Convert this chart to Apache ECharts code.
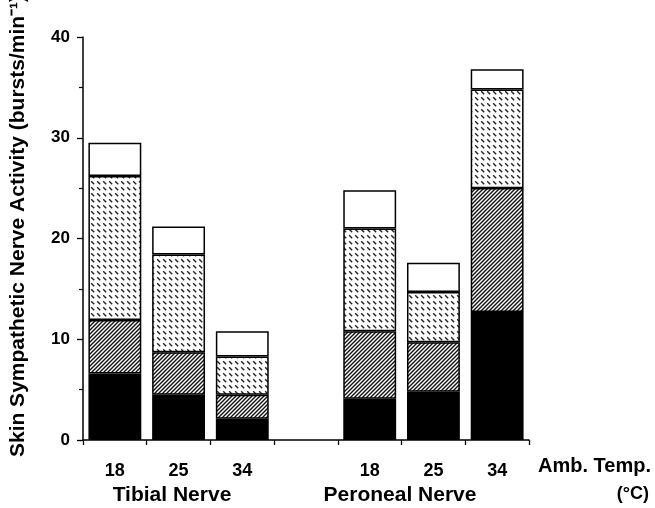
<!DOCTYPE html>
<html>
<head>
<meta charset="utf-8">
<script src="https://cdn.jsdelivr.net/npm/echarts@6/dist/echarts.min.js"></script>
<style>html,body{margin:0;padding:0;background:#fff}#c{width:655px;height:508px}</style>
</head>
<body>
<div id="c"></div>
<script>
// Categories (blank slot separates the two nerves)
var categories = ['18', '25', '34', '', '18', '25', '34'];
// Stacked segment values (bursts/min), bottom to top
var blackSeg  = [6.6, 4.5, 2.1, null, 4.1, 4.8, 12.7];
var hatchSeg  = [5.3, 4.2, 2.4, null, 6.7, 4.9, 12.3];
var dottedSeg = [14.3, 9.7, 3.8, null, 10.2, 5.0, 9.8];
var whiteSeg  = [3.3, 2.8, 2.5, null, 3.8, 2.9, 2.0];
var yTicks = [0, 10, 20, 30, 40];
var groupLabels = ['Tibial Nerve', 'Peroneal Nerve'];
var yName = 'Skin Sympathetic Nerve Activity (bursts/min\u207B\u00B9)';

function makeHatch() {
  var c = document.createElement('canvas');
  c.width = 4; c.height = 4;
  var g = c.getContext('2d');
  g.fillStyle = '#fff'; g.fillRect(0, 0, 4, 4);
  g.strokeStyle = '#111'; g.lineWidth = 1.4;
  g.beginPath();
  g.moveTo(-1, 5); g.lineTo(5, -1);
  g.moveTo(-1, 1); g.lineTo(1, -1);
  g.moveTo(3, 5); g.lineTo(5, 3);
  g.stroke();
  return c;
}
function makeDots() {
  var c = document.createElement('canvas');
  c.width = 6; c.height = 6;
  var g = c.getContext('2d');
  g.fillStyle = '#fff'; g.fillRect(0, 0, 6, 6);
  g.strokeStyle = '#222'; g.lineWidth = 1.4;
  g.beginPath();
  g.moveTo(1.2, 1.2); g.lineTo(4.2, 4.2);
  g.stroke();
  return c;
}

var font = 'Liberation Sans, Arial, Helvetica, sans-serif';
var chart = echarts.init(document.getElementById('c'), null, {renderer: 'canvas'});
var border = {borderColor: '#000', borderWidth: 1.5};
function ser(name, data, style) {
  return {name: name, type: 'bar', stack: 'a', data: data, barWidth: '83%',
    itemStyle: style, emphasis: {disabled: true}, animation: false};
}
chart.setOption({
  animation: false,
  grid: {left: 83, right: 126, top: 37, bottom: 68},
  xAxis: {
    type: 'category', data: categories,
    axisLine: {lineStyle: {color: '#000', width: 1.5}},
    axisTick: {show: true, alignWithLabel: false, length: 5, lineStyle: {color: '#000', width: 1.3}},
    axisLabel: {color: '#000', fontFamily: font, fontWeight: 'bold', fontSize: 18, margin: 22}
  },
  yAxis: {
    type: 'value', min: 0, max: 40, interval: 10,
    splitLine: {show: false},
    axisLine: {show: true, lineStyle: {color: '#000', width: 1.5}},
    axisTick: {show: true, length: 6, lineStyle: {color: '#000', width: 1.3}},
    minorTick: {show: true, splitNumber: 2, length: 4, lineStyle: {color: '#000', width: 1.2}},
    axisLabel: {color: '#000', fontFamily: font, fontWeight: 'bold', fontSize: 17, margin: 13,
      formatter: function (v) { return yTicks.indexOf(v) >= 0 ? String(v) : ''; }}
  },
  series: [
    ser('black', blackSeg, {color: '#000'}),
    ser('hatch', hatchSeg, Object.assign({color: {image: makeHatch(), repeat: 'repeat'}}, border)),
    ser('dotted', dottedSeg, Object.assign({color: {image: makeDots(), repeat: 'repeat'}}, border)),
    ser('white', whiteSeg, Object.assign({color: '#fff'}, border))
  ],
  graphic: [
    {type: 'text', x: 18, y: 226, rotation: Math.PI / 2,
      style: {text: yName, font: 'bold 21px ' + font, fill: '#000', align: 'center', verticalAlign: 'middle'}},
    {type: 'text', x: 172, y: 495, style: {text: groupLabels[0], font: 'bold 21px ' + font, fill: '#000', align: 'center', verticalAlign: 'middle'}},
    {type: 'text', x: 400, y: 495, style: {text: groupLabels[1], font: 'bold 21px ' + font, fill: '#000', align: 'center', verticalAlign: 'middle'}},
    {type: 'text', x: 651, y: 466, style: {text: 'Amb. Temp.', font: 'bold 20px ' + font, fill: '#000', align: 'right', verticalAlign: 'middle'}},
    {type: 'text', x: 649, y: 494, style: {text: '(\u00B0C)', font: 'bold 18px ' + font, fill: '#000', align: 'right', verticalAlign: 'middle'}}
  ]
});
</script>
</body>
</html>
